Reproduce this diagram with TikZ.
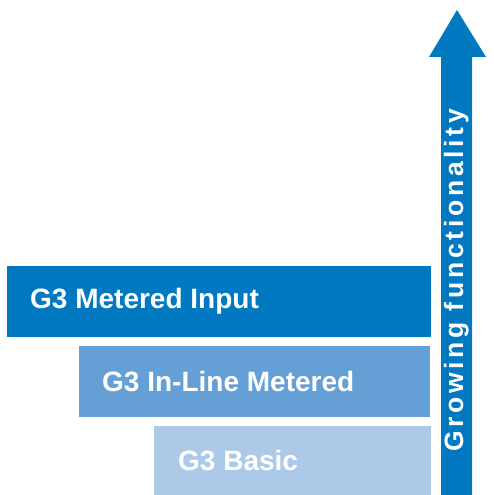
\documentclass[tikz,border=0pt]{standalone}
\usepackage{fontspec}
\setmainfont{Liberation Sans}
\newfontfamily\labelfont[LetterSpace=14]{Liberation Sans}
\definecolor{darkblue}{HTML}{0079C1}
\definecolor{midblue}{HTML}{64A0D6}
\definecolor{lightblue}{HTML}{ADC9E8}
\begin{document}
\begin{tikzpicture}[x=1pt,y=1pt,
  leveltext/.style={anchor=west, inner sep=0pt, text=white, font=\fontsize{28}{32}\selectfont\bfseries}]
\useasboundingbox (0,0) rectangle (494,495);
% boxes (y = 495 - pixel y)
\fill[darkblue] (7,229) rectangle (431,158);
\fill[midblue] (79,149) rectangle (430,78);
\fill[lightblue] (154,69) rectangle (431,0);
\node[leveltext] (metered) at (30,193.5) {G3 Metered Input};
\node[leveltext] (inline) at (102,113.5) {G3 In-Line Metered};
\node[leveltext] (basic) at (178,34.5) {G3 Basic};
% arrow
\fill[darkblue] (441,0) -- (441,438) -- (429,438) -- (457,485) -- (486,438) -- (472,438) -- (472,0) -- cycle;
\node[rotate=90, anchor=base west, inner sep=0pt, text=white,
  font=\labelfont\fontsize{26.5}{30}\selectfont\bfseries] (growing) at (463,43) {Growing functionality};
\end{tikzpicture}
\end{document}
